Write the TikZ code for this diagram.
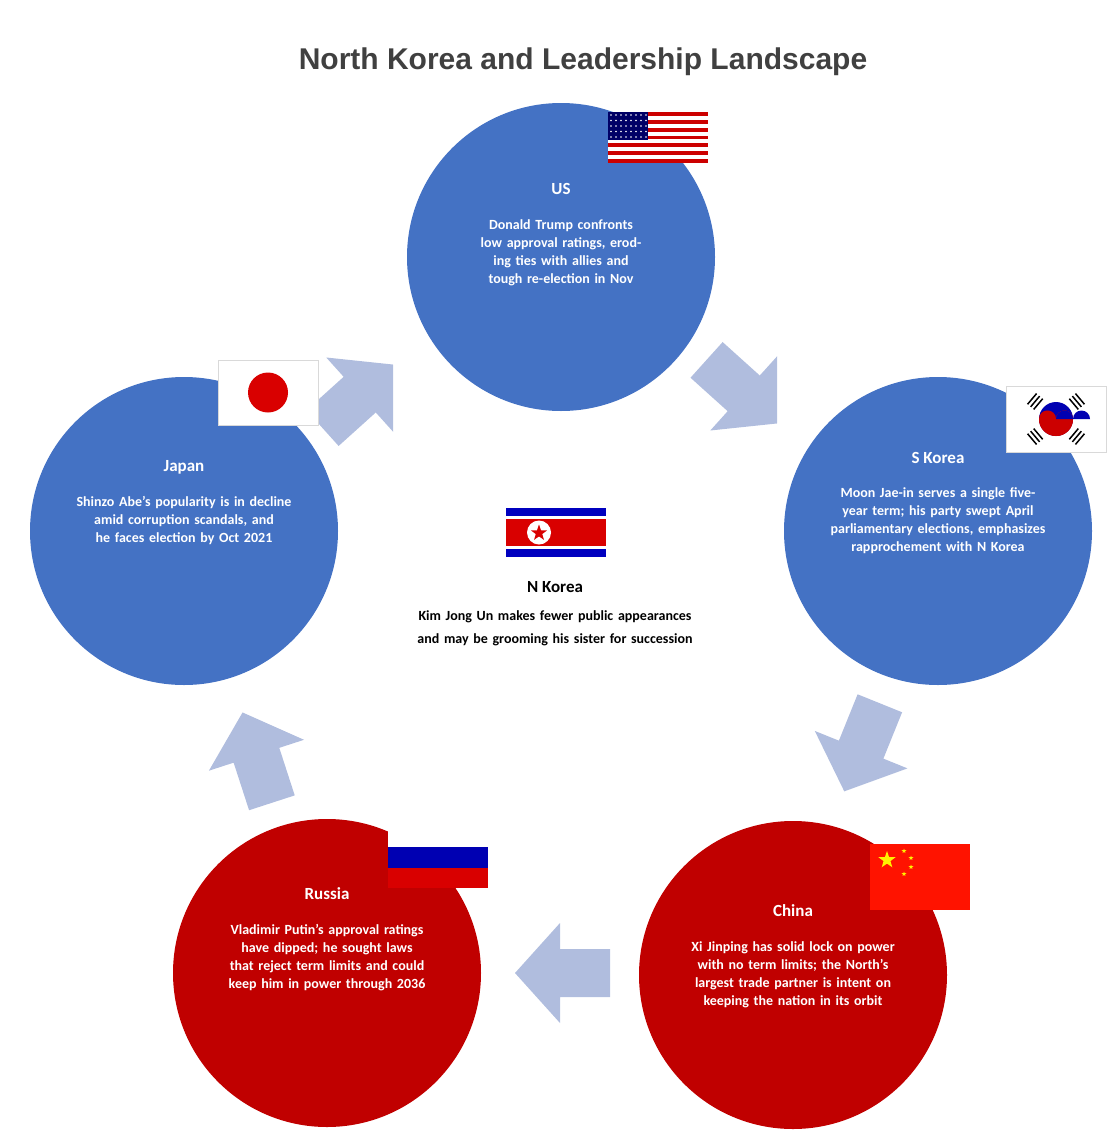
\documentclass[tikz,border=0pt]{standalone}
\usepackage{fontspec}
\setmainfont{Carlito}
\newfontfamily\titlefont{Liberation Sans}
\usetikzlibrary{shapes.geometric}
\definecolor{cblue}{HTML}{4472C4}
\definecolor{cred}{HTML}{C00000}
\definecolor{carrow}{HTML}{B0BDDE}
\definecolor{ttl}{HTML}{404040}
\tikzset{
 bubble/.style={circle,minimum size=308pt,inner sep=0pt},
 ctitle/.style={text=white,font=\bfseries\fontsize{17}{20}\selectfont},
 ctext/.style={text=white,font=\bfseries\fontsize{14}{18}\selectfont,align=center,text width=190pt},
 barrow/.style={fill=carrow,draw=none},
 flagframe/.style={draw=black!15,line width=0.4pt}
}
\newcommand{\blockarrow}[3]{%
 \begin{scope}[shift={(#1,#2)},rotate=#3,x=1pt,y=1pt]
 \fill[carrow] (-45,-24) -- (5,-24) -- (5,-50) -- (50,0) -- (5,50) -- (5,24) -- (-45,24) -- cycle;
 \end{scope}}
\begin{document}
\begin{tikzpicture}[x=1pt,y=-1pt]
\useasboundingbox (0,0) rectangle (1110,1146);
\node[font=\titlefont\bfseries\fontsize{30}{34}\selectfont,text=ttl] (title) at (583,62) {North Korea and Leadership Landscape};
% circles
\node[bubble,fill=cblue] (us) at (561,257) {};
\node[bubble,fill=cblue] (sk) at (938,531) {};
\node[bubble,fill=cred] (cn) at (793,975) {};
\node[bubble,fill=cred] (ru) at (327,973) {};
\node[bubble,fill=cblue] (jp) at (184,531) {};
% arrows
\blockarrow{356}{398}{42}
\blockarrow{740}{390}{-42}
\blockarrow{863}{745}{-112}
\blockarrow{565}{973}{180}
\blockarrow{258}{760}{108}
% texts
\node[ctitle] (ust) at (561,189) {US};
\node[ctext,anchor=north] (usx) at (561,216) {Donald Trump confronts low approval ratings, eroding ties with allies and tough re-election in Nov};
\node[ctitle] (skt) at (938,458) {S Korea};
\node[ctext,anchor=north,text width=215pt] (skx) at (938,484) {Moon Jae-in serves a single five-year term; his party swept April parliamentary elections, emphasizes rapprochement with N Korea};
\node[ctitle] (cnt) at (793,911) {China};
\node[ctext,anchor=north,text width=225pt] (cnx) at (793,938) {Xi Jinping has solid lock on power with no term limits; the North’s largest trade partner is intent on keeping the nation in its orbit};
\node[ctitle] (rut) at (327,894) {Russia};
\node[ctext,anchor=north,text width=225pt] (rux) at (327,921) {Vladimir Putin’s approval ratings have dipped; he sought laws that reject term limits and could keep him in power through 2036};
\node[ctitle] (jpt) at (184,467) {Japan};
\node[ctext,anchor=north,text width=225pt] (jpx) at (184,493) {Shinzo Abe’s popularity is in decline amid corruption scandals, and he faces election by Oct 2021};
\node[font=\bfseries\fontsize{17}{20}\selectfont] (nkt) at (555,587) {N Korea};
\node[font=\bfseries\fontsize{14}{23.3}\selectfont,align=center,text width=290pt,anchor=north] (nkx) at (555,607) {Kim Jong Un makes fewer public appearances and may be grooming his sister for succession};
% US flag
\foreach \i in {0,...,12}{
 \pgfmathsetmacro{\yy}{112+\i*51/13}
 \ifodd\i \fill[white] (608,\yy) rectangle (708,\yy+51/13); \else \fill[red!80!black] (608,\yy) rectangle (708,\yy+51/13); \fi}
\fill[blue!40!black] (608,112) rectangle (648,139.5);
\foreach \a in {0,...,7}{\foreach \b in {0,...,4}{\fill[white] (611+\a*5,115+\b*5.5) circle (0.9);}}
% Japan flag
\fill[white,draw=black!15] (218,360) rectangle (318,425);
\fill[red!85!black] (268,392.5) circle (20);
% S Korea flag
\fill[white,draw=black!15] (1006,386) rectangle (1106,452);
\begin{scope}[shift={(1056,419)}]
 \fill[blue!70!black] (0,0) circle (17);
 \fill[red!80!black] (-17,0) arc[start angle=180,end angle=0,radius=17] -- (17,0) arc[start angle=0,end angle=-180,radius=8.5] arc[start angle=0,end angle=180,radius=-8.5] -- cycle;
 \fill[red!80!black] (-17,0) arc[start angle=180,end angle=360,radius=8.5] -- (0,0) arc[start angle=0,end angle=180,radius=-8.5];
 \fill[red!80!black] (-17,0) arc[start angle=180,end angle=0,radius=17] -- cycle;
 \fill[blue!70!black] (0,0) circle[radius=0.01];
 \fill[blue!70!black] (0,0) arc[start angle=180,end angle=360,radius=8.5] arc[start angle=0,end angle=180,radius=-8.5];
 \fill[red!80!black] (-17,0) arc[start angle=180,end angle=360,radius=8.5] arc[start angle=180,end angle=0,radius=-8.5];
 \foreach \ang in {40,140,220,320}{
  \begin{scope}[rotate=\ang]
   \foreach \k in {0,1,2}{\fill[black] (-24-\k*4,-7) rectangle (-22.5-\k*4,7);}
  \end{scope}}
\end{scope}
% N Korea flag
\fill[blue!75!black] (506,508) rectangle (606,557);
\fill[white] (506,516) rectangle (606,549);
\fill[red!85!black] (506,519) rectangle (606,546);
\fill[white] (539,532.5) circle (12);
\node[star,star points=5,star point ratio=2.5,fill=red!85!black,inner sep=0pt,minimum size=17pt] (nkstar) at (539,533) {};
% Russia flag
\fill[white] (388,826) rectangle (488,847);
\fill[blue!70!black] (388,847) rectangle (488,868);
\fill[red!85!black] (388,868) rectangle (488,888);
% China flag
\fill[red!85!orange] (870,844) rectangle (970,910);
\node[star,star points=5,star point ratio=2.5,fill=yellow,inner sep=0pt,minimum size=18pt] (cs1) at (887,860) {};
\foreach \p in {(904,851),(911,858),(911,867),(904,874)}{\node[star,star points=5,star point ratio=2.5,fill=yellow,inner sep=0pt,minimum size=5pt] at \p {};}
\end{tikzpicture}
\end{document}
